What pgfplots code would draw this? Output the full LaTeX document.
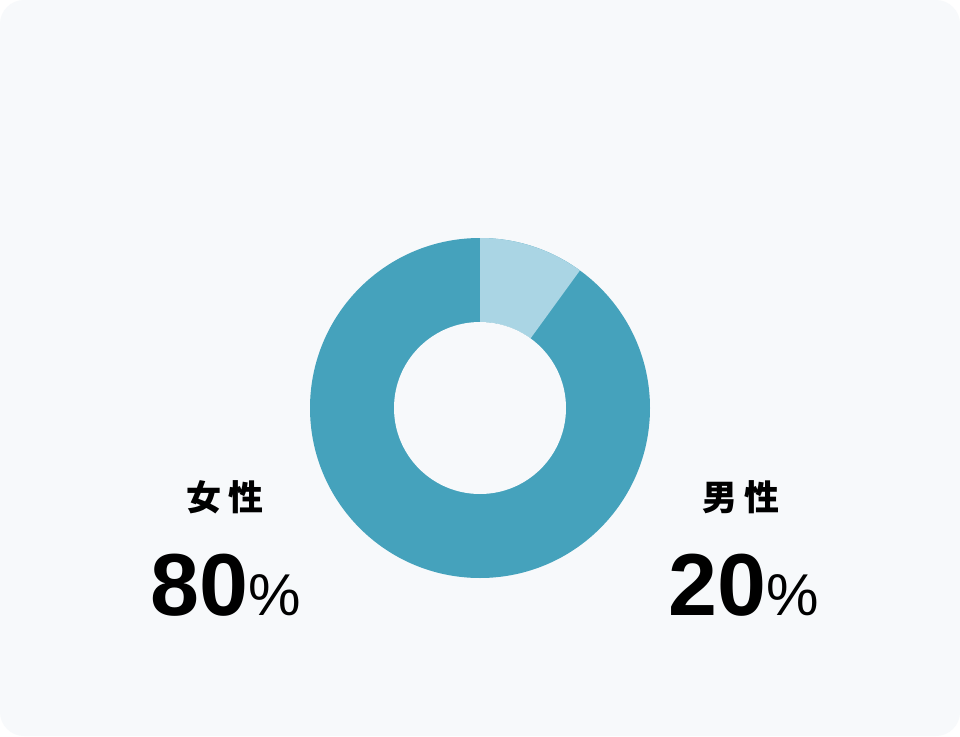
\documentclass[border=0pt]{standalone}
\usepackage{pgfplots}
\pgfplotsset{compat=1.18}
\usepackage{pgfplotstable}
\usepackage{fontspec}
\setmainfont{Noto Sans CJK JP}
\newfontfamily\numfont{Liberation Sans}

\definecolor{bgcol}{HTML}{F7F9FB}
\definecolor{darkseg}{HTML}{45A2BC}
\definecolor{lightseg}{HTML}{AAD5E4}

% share of the ring as drawn (clockwise from the top)
\pgfplotstableread{
label share
male 10
female 90
}\sharetable

\begin{document}
\begin{tikzpicture}
\pgfplotstablegetelem{0}{share}\of\sharetable
\pgfmathsetmacro{\segend}{90-3.6*\pgfplotsretval}
\begin{axis}[
    scale only axis,
    width=480pt, height=368pt,
    xmin=0, xmax=960, ymin=0, ymax=736,
    hide axis,
    clip=false,
]
\coordinate (bl) at (axis cs:0,0);
\coordinate (tr) at (axis cs:960,736);
\fill[white] (axis cs:0,0) rectangle (axis cs:960,736);
\fill[bgcol, rounded corners=12pt] (axis cs:0,0) rectangle (axis cs:960,736);
% ring: 1 unit = 0.5pt, outer r=170, inner r=86
\fill[darkseg] (axis cs:480,328) circle[radius=85pt];
\fill[lightseg] (axis cs:480,328) ++(90:85pt)
    arc[start angle=90, end angle=\segend, radius=85pt]
    -- ++(\segend+180:42pt)
    arc[start angle=\segend, end angle=90, radius=43pt] -- cycle;
\fill[bgcol] (axis cs:480,328) circle[radius=43pt];
% labels
\node[font=\fontsize{17.5}{17.5}\selectfont\bfseries] at (axis cs:225,239) {女\hspace{4pt}性};
\node[font=\fontsize{17.5}{17.5}\selectfont\bfseries] at (axis cs:741,239) {男\hspace{4pt}性};
\node[anchor=base, inner sep=0pt] at (axis cs:226,121)
    {\numfont\bfseries\fontsize{44}{44}\selectfont 80\mdseries\fontsize{29.5}{29.5}\selectfont\%};
\node[anchor=base, inner sep=0pt] at (axis cs:744,121)
    {\numfont\bfseries\fontsize{44}{44}\selectfont 20\mdseries\fontsize{29.5}{29.5}\selectfont\%};
\end{axis}
\pgfresetboundingbox
\path (bl) rectangle (tr);
\end{tikzpicture}
\end{document}
